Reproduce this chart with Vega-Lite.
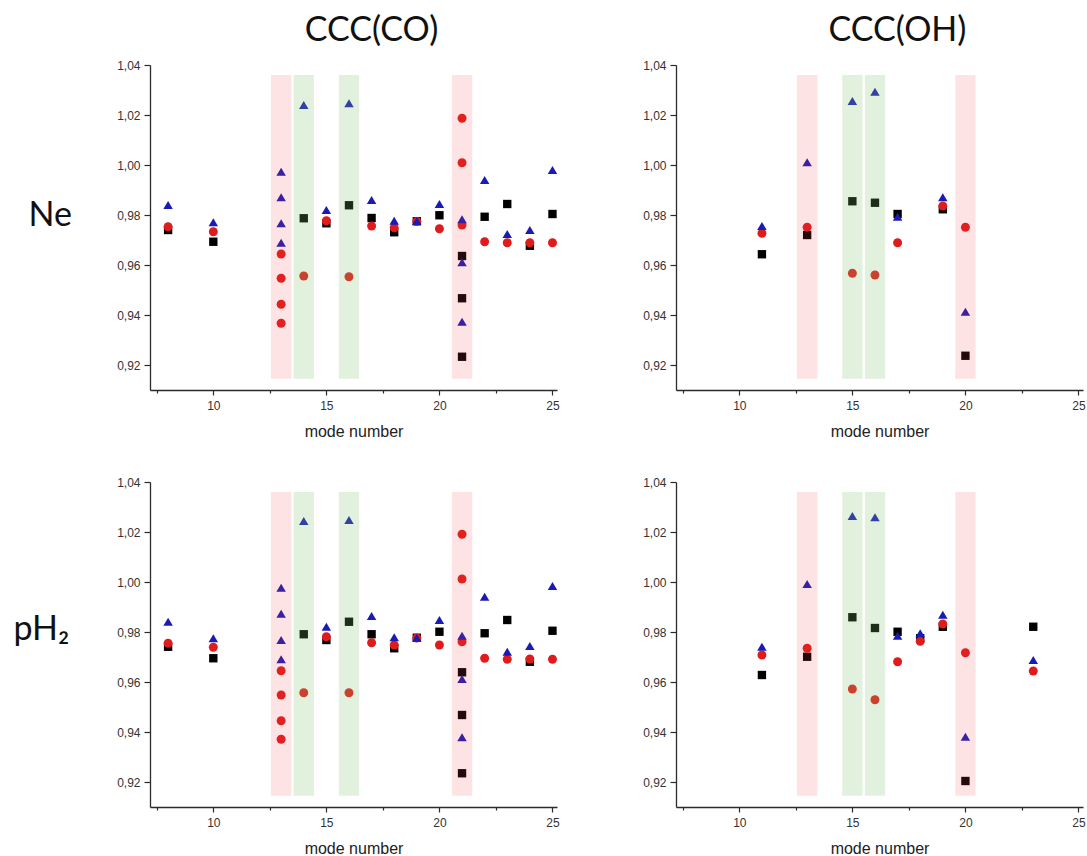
{
  "$schema": "https://vega.github.io/schema/vega-lite/v6.json",
  "padding": {"left": 13, "top": 14, "right": 0, "bottom": 0},
  "background": "white",
  "columns": 2,
  "bounds": "flush",
  "spacing": {"row": 92, "column": 119},
  "datasets": {
    "points": [
      {"panel": "CO_Ne", "series": "sq", "mode": 8, "value": 0.974},
      {"panel": "CO_Ne", "series": "sq", "mode": 10, "value": 0.9693},
      {"panel": "CO_Ne", "series": "sq", "mode": 14, "value": 0.9787},
      {"panel": "CO_Ne", "series": "sq", "mode": 15, "value": 0.9767},
      {"panel": "CO_Ne", "series": "sq", "mode": 16, "value": 0.9839},
      {"panel": "CO_Ne", "series": "sq", "mode": 17, "value": 0.9788},
      {"panel": "CO_Ne", "series": "sq", "mode": 18, "value": 0.9731},
      {"panel": "CO_Ne", "series": "sq", "mode": 19, "value": 0.9775},
      {"panel": "CO_Ne", "series": "sq", "mode": 20, "value": 0.9799},
      {"panel": "CO_Ne", "series": "sq", "mode": 21, "value": 0.9636},
      {"panel": "CO_Ne", "series": "sq", "mode": 21, "value": 0.9467},
      {"panel": "CO_Ne", "series": "sq", "mode": 21, "value": 0.9233},
      {"panel": "CO_Ne", "series": "sq", "mode": 22, "value": 0.9793},
      {"panel": "CO_Ne", "series": "sq", "mode": 23, "value": 0.9844},
      {"panel": "CO_Ne", "series": "sq", "mode": 24, "value": 0.9677},
      {"panel": "CO_Ne", "series": "sq", "mode": 25, "value": 0.9804},
      {"panel": "CO_Ne", "series": "ci", "mode": 8, "value": 0.9753},
      {"panel": "CO_Ne", "series": "ci", "mode": 10, "value": 0.9733},
      {"panel": "CO_Ne", "series": "ci", "mode": 13, "value": 0.9644},
      {"panel": "CO_Ne", "series": "ci", "mode": 13, "value": 0.9547},
      {"panel": "CO_Ne", "series": "ci", "mode": 13, "value": 0.9443},
      {"panel": "CO_Ne", "series": "ci", "mode": 13, "value": 0.9367},
      {"panel": "CO_Ne", "series": "ci", "mode": 14, "value": 0.9556},
      {"panel": "CO_Ne", "series": "ci", "mode": 15, "value": 0.9777},
      {"panel": "CO_Ne", "series": "ci", "mode": 16, "value": 0.9553},
      {"panel": "CO_Ne", "series": "ci", "mode": 17, "value": 0.9756},
      {"panel": "CO_Ne", "series": "ci", "mode": 18, "value": 0.9749},
      {"panel": "CO_Ne", "series": "ci", "mode": 19, "value": 0.9774},
      {"panel": "CO_Ne", "series": "ci", "mode": 20, "value": 0.9745},
      {"panel": "CO_Ne", "series": "ci", "mode": 21, "value": 1.0187},
      {"panel": "CO_Ne", "series": "ci", "mode": 21, "value": 1.0009},
      {"panel": "CO_Ne", "series": "ci", "mode": 21, "value": 0.976},
      {"panel": "CO_Ne", "series": "ci", "mode": 22, "value": 0.9693},
      {"panel": "CO_Ne", "series": "ci", "mode": 23, "value": 0.9689},
      {"panel": "CO_Ne", "series": "ci", "mode": 24, "value": 0.9689},
      {"panel": "CO_Ne", "series": "ci", "mode": 25, "value": 0.9689},
      {"panel": "CO_Ne", "series": "tr", "mode": 8, "value": 0.984},
      {"panel": "CO_Ne", "series": "tr", "mode": 10, "value": 0.9771},
      {"panel": "CO_Ne", "series": "tr", "mode": 13, "value": 0.9973},
      {"panel": "CO_Ne", "series": "tr", "mode": 13, "value": 0.9871},
      {"panel": "CO_Ne", "series": "tr", "mode": 13, "value": 0.9767},
      {"panel": "CO_Ne", "series": "tr", "mode": 13, "value": 0.9689},
      {"panel": "CO_Ne", "series": "tr", "mode": 14, "value": 1.024},
      {"panel": "CO_Ne", "series": "tr", "mode": 15, "value": 0.982},
      {"panel": "CO_Ne", "series": "tr", "mode": 16, "value": 1.0247},
      {"panel": "CO_Ne", "series": "tr", "mode": 17, "value": 0.986},
      {"panel": "CO_Ne", "series": "tr", "mode": 18, "value": 0.9777},
      {"panel": "CO_Ne", "series": "tr", "mode": 19, "value": 0.9776},
      {"panel": "CO_Ne", "series": "tr", "mode": 20, "value": 0.9844},
      {"panel": "CO_Ne", "series": "tr", "mode": 21, "value": 0.9783},
      {"panel": "CO_Ne", "series": "tr", "mode": 21, "value": 0.9611},
      {"panel": "CO_Ne", "series": "tr", "mode": 21, "value": 0.9373},
      {"panel": "CO_Ne", "series": "tr", "mode": 22, "value": 0.994},
      {"panel": "CO_Ne", "series": "tr", "mode": 23, "value": 0.9724},
      {"panel": "CO_Ne", "series": "tr", "mode": 24, "value": 0.974},
      {"panel": "CO_Ne", "series": "tr", "mode": 25, "value": 0.998},

      {"panel": "OH_Ne", "series": "sq", "mode": 11, "value": 0.9643},
      {"panel": "OH_Ne", "series": "sq", "mode": 13, "value": 0.972},
      {"panel": "OH_Ne", "series": "sq", "mode": 15, "value": 0.9855},
      {"panel": "OH_Ne", "series": "sq", "mode": 16, "value": 0.9849},
      {"panel": "OH_Ne", "series": "sq", "mode": 17, "value": 0.9804},
      {"panel": "OH_Ne", "series": "sq", "mode": 19, "value": 0.9823},
      {"panel": "OH_Ne", "series": "sq", "mode": 20, "value": 0.9237},
      {"panel": "OH_Ne", "series": "ci", "mode": 11, "value": 0.9727},
      {"panel": "OH_Ne", "series": "ci", "mode": 13, "value": 0.9751},
      {"panel": "OH_Ne", "series": "ci", "mode": 15, "value": 0.9567},
      {"panel": "OH_Ne", "series": "ci", "mode": 16, "value": 0.956},
      {"panel": "OH_Ne", "series": "ci", "mode": 17, "value": 0.9689},
      {"panel": "OH_Ne", "series": "ci", "mode": 19, "value": 0.9836},
      {"panel": "OH_Ne", "series": "ci", "mode": 20, "value": 0.9751},
      {"panel": "OH_Ne", "series": "tr", "mode": 11, "value": 0.9756},
      {"panel": "OH_Ne", "series": "tr", "mode": 13, "value": 1.0011},
      {"panel": "OH_Ne", "series": "tr", "mode": 15, "value": 1.0256},
      {"panel": "OH_Ne", "series": "tr", "mode": 16, "value": 1.0293},
      {"panel": "OH_Ne", "series": "tr", "mode": 17, "value": 0.9793},
      {"panel": "OH_Ne", "series": "tr", "mode": 19, "value": 0.9871},
      {"panel": "OH_Ne", "series": "tr", "mode": 20, "value": 0.9413},

      {"panel": "CO_pH2", "series": "sq", "mode": 8, "value": 0.9741},
      {"panel": "CO_pH2", "series": "sq", "mode": 10, "value": 0.9695},
      {"panel": "CO_pH2", "series": "sq", "mode": 14, "value": 0.9791},
      {"panel": "CO_pH2", "series": "sq", "mode": 15, "value": 0.9768},
      {"panel": "CO_pH2", "series": "sq", "mode": 16, "value": 0.9841},
      {"panel": "CO_pH2", "series": "sq", "mode": 17, "value": 0.9791},
      {"panel": "CO_pH2", "series": "sq", "mode": 18, "value": 0.9735},
      {"panel": "CO_pH2", "series": "sq", "mode": 19, "value": 0.9777},
      {"panel": "CO_pH2", "series": "sq", "mode": 20, "value": 0.9801},
      {"panel": "CO_pH2", "series": "sq", "mode": 21, "value": 0.9639},
      {"panel": "CO_pH2", "series": "sq", "mode": 21, "value": 0.9468},
      {"panel": "CO_pH2", "series": "sq", "mode": 21, "value": 0.9235},
      {"panel": "CO_pH2", "series": "sq", "mode": 22, "value": 0.9795},
      {"panel": "CO_pH2", "series": "sq", "mode": 23, "value": 0.9848},
      {"panel": "CO_pH2", "series": "sq", "mode": 24, "value": 0.9681},
      {"panel": "CO_pH2", "series": "sq", "mode": 25, "value": 0.9805},
      {"panel": "CO_pH2", "series": "ci", "mode": 8, "value": 0.9755},
      {"panel": "CO_pH2", "series": "ci", "mode": 10, "value": 0.9739},
      {"panel": "CO_pH2", "series": "ci", "mode": 13, "value": 0.9645},
      {"panel": "CO_pH2", "series": "ci", "mode": 13, "value": 0.9548},
      {"panel": "CO_pH2", "series": "ci", "mode": 13, "value": 0.9445},
      {"panel": "CO_pH2", "series": "ci", "mode": 13, "value": 0.9371},
      {"panel": "CO_pH2", "series": "ci", "mode": 14, "value": 0.9557},
      {"panel": "CO_pH2", "series": "ci", "mode": 15, "value": 0.9781},
      {"panel": "CO_pH2", "series": "ci", "mode": 16, "value": 0.9557},
      {"panel": "CO_pH2", "series": "ci", "mode": 17, "value": 0.9757},
      {"panel": "CO_pH2", "series": "ci", "mode": 18, "value": 0.9748},
      {"panel": "CO_pH2", "series": "ci", "mode": 19, "value": 0.9776},
      {"panel": "CO_pH2", "series": "ci", "mode": 20, "value": 0.9748},
      {"panel": "CO_pH2", "series": "ci", "mode": 21, "value": 1.0191},
      {"panel": "CO_pH2", "series": "ci", "mode": 21, "value": 1.0012},
      {"panel": "CO_pH2", "series": "ci", "mode": 21, "value": 0.9761},
      {"panel": "CO_pH2", "series": "ci", "mode": 22, "value": 0.9695},
      {"panel": "CO_pH2", "series": "ci", "mode": 23, "value": 0.9691},
      {"panel": "CO_pH2", "series": "ci", "mode": 24, "value": 0.9692},
      {"panel": "CO_pH2", "series": "ci", "mode": 25, "value": 0.9691},
      {"panel": "CO_pH2", "series": "tr", "mode": 8, "value": 0.9841},
      {"panel": "CO_pH2", "series": "tr", "mode": 10, "value": 0.9775},
      {"panel": "CO_pH2", "series": "tr", "mode": 13, "value": 0.9977},
      {"panel": "CO_pH2", "series": "tr", "mode": 13, "value": 0.9873},
      {"panel": "CO_pH2", "series": "tr", "mode": 13, "value": 0.9768},
      {"panel": "CO_pH2", "series": "tr", "mode": 13, "value": 0.9691},
      {"panel": "CO_pH2", "series": "tr", "mode": 14, "value": 1.0244},
      {"panel": "CO_pH2", "series": "tr", "mode": 15, "value": 0.9821},
      {"panel": "CO_pH2", "series": "tr", "mode": 16, "value": 1.0248},
      {"panel": "CO_pH2", "series": "tr", "mode": 17, "value": 0.9864},
      {"panel": "CO_pH2", "series": "tr", "mode": 18, "value": 0.9779},
      {"panel": "CO_pH2", "series": "tr", "mode": 19, "value": 0.9777},
      {"panel": "CO_pH2", "series": "tr", "mode": 20, "value": 0.9848},
      {"panel": "CO_pH2", "series": "tr", "mode": 21, "value": 0.9785},
      {"panel": "CO_pH2", "series": "tr", "mode": 21, "value": 0.9612},
      {"panel": "CO_pH2", "series": "tr", "mode": 21, "value": 0.9379},
      {"panel": "CO_pH2", "series": "tr", "mode": 22, "value": 0.9941},
      {"panel": "CO_pH2", "series": "tr", "mode": 23, "value": 0.9721},
      {"panel": "CO_pH2", "series": "tr", "mode": 24, "value": 0.9744},
      {"panel": "CO_pH2", "series": "tr", "mode": 25, "value": 0.9984},

      {"panel": "OH_pH2", "series": "sq", "mode": 11, "value": 0.9628},
      {"panel": "OH_pH2", "series": "sq", "mode": 13, "value": 0.9701},
      {"panel": "OH_pH2", "series": "sq", "mode": 15, "value": 0.9859},
      {"panel": "OH_pH2", "series": "sq", "mode": 16, "value": 0.9816},
      {"panel": "OH_pH2", "series": "sq", "mode": 17, "value": 0.9801},
      {"panel": "OH_pH2", "series": "sq", "mode": 18, "value": 0.9775},
      {"panel": "OH_pH2", "series": "sq", "mode": 19, "value": 0.9821},
      {"panel": "OH_pH2", "series": "sq", "mode": 20, "value": 0.9204},
      {"panel": "OH_pH2", "series": "sq", "mode": 23, "value": 0.9821},
      {"panel": "OH_pH2", "series": "ci", "mode": 11, "value": 0.9708},
      {"panel": "OH_pH2", "series": "ci", "mode": 13, "value": 0.9735},
      {"panel": "OH_pH2", "series": "ci", "mode": 15, "value": 0.9572},
      {"panel": "OH_pH2", "series": "ci", "mode": 16, "value": 0.9529},
      {"panel": "OH_pH2", "series": "ci", "mode": 17, "value": 0.9681},
      {"panel": "OH_pH2", "series": "ci", "mode": 18, "value": 0.9763},
      {"panel": "OH_pH2", "series": "ci", "mode": 19, "value": 0.9832},
      {"panel": "OH_pH2", "series": "ci", "mode": 20, "value": 0.9717},
      {"panel": "OH_pH2", "series": "ci", "mode": 23, "value": 0.9644},
      {"panel": "OH_pH2", "series": "tr", "mode": 11, "value": 0.9741},
      {"panel": "OH_pH2", "series": "tr", "mode": 13, "value": 0.9992},
      {"panel": "OH_pH2", "series": "tr", "mode": 15, "value": 1.0264},
      {"panel": "OH_pH2", "series": "tr", "mode": 16, "value": 1.0259},
      {"panel": "OH_pH2", "series": "tr", "mode": 17, "value": 0.9785},
      {"panel": "OH_pH2", "series": "tr", "mode": 18, "value": 0.9795},
      {"panel": "OH_pH2", "series": "tr", "mode": 19, "value": 0.9869},
      {"panel": "OH_pH2", "series": "tr", "mode": 20, "value": 0.9381},
      {"panel": "OH_pH2", "series": "tr", "mode": 23, "value": 0.9688}
    ],
    "bands": [
      {"panel": "CO_Ne", "kind": "pink", "x1": 12.55, "x2": 13.45},
      {"panel": "CO_Ne", "kind": "green", "x1": 13.55, "x2": 14.45},
      {"panel": "CO_Ne", "kind": "green", "x1": 15.55, "x2": 16.45},
      {"panel": "CO_Ne", "kind": "pink", "x1": 20.55, "x2": 21.45},
      {"panel": "CO_pH2", "kind": "pink", "x1": 12.55, "x2": 13.45},
      {"panel": "CO_pH2", "kind": "green", "x1": 13.55, "x2": 14.45},
      {"panel": "CO_pH2", "kind": "green", "x1": 15.55, "x2": 16.45},
      {"panel": "CO_pH2", "kind": "pink", "x1": 20.55, "x2": 21.45},
      {"panel": "OH_Ne", "kind": "pink", "x1": 12.55, "x2": 13.45},
      {"panel": "OH_Ne", "kind": "green", "x1": 14.55, "x2": 15.45},
      {"panel": "OH_Ne", "kind": "green", "x1": 15.55, "x2": 16.45},
      {"panel": "OH_Ne", "kind": "pink", "x1": 19.55, "x2": 20.45},
      {"panel": "OH_pH2", "kind": "pink", "x1": 12.55, "x2": 13.45},
      {"panel": "OH_pH2", "kind": "green", "x1": 14.55, "x2": 15.45},
      {"panel": "OH_pH2", "kind": "green", "x1": 15.55, "x2": 16.45},
      {"panel": "OH_pH2", "kind": "pink", "x1": 19.55, "x2": 20.45}
    ]
  },
  "concat": [
    {
      "width": 407, "height": 325,
      "title": {"text": "CCC(CO)", "dx": 18, "offset": 11},
      "layer": [
        {
          "data": {"name": "points"},
          "transform": [{"filter": "datum.panel === 'CO_Ne'"}],
          "mark": {"type": "point", "filled": true, "opacity": 1},
          "encoding": {
            "x": {"field": "mode", "type": "quantitative", "scale": {"domain": [7.2, 25.2], "nice": false, "zero": false},
              "axis": {"values": [7.5, 10, 12.5, 15, 17.5, 20, 22.5, 25], "title": "mode number", "labelExpr": "datum.value % 5 == 0 ? datum.label : ''", "tickSize": {"condition": {"test": "datum.value % 5 == 0", "value": 5}, "value": 3}, "labelPadding": 5, "titlePadding": 12}},
            "y": {"field": "value", "type": "quantitative", "scale": {"domain": [0.91, 1.04], "nice": false, "zero": false},
              "axis": {"values": [0.92, 0.93, 0.94, 0.95, 0.96, 0.97, 0.98, 0.99, 1.0, 1.01, 1.02, 1.03, 1.04], "labelExpr": "round(datum.value*100) % 2 == 0 ? replace(format(datum.value, '.2f'), '.', ',') : ''", "tickSize": {"condition": {"test": "round(datum.value*100) % 2 == 0", "value": 6}, "value": 3}, "labelPadding": 4,
                "title": "Ne", "titleAngle": 0, "titleFont": "Lato", "titleFontSize": 34, "titleColor": "#111", "titleAlign": "left", "titleBaseline": "middle", "titleX": -122, "titleY": 150}},
            "shape": {"field": "series", "type": "nominal", "scale": {"domain": ["sq", "ci", "tr"], "range": ["square", "circle", "triangle-up"]}, "legend": null},
            "color": {"field": "series", "type": "nominal", "scale": {"domain": ["sq", "ci", "tr"], "range": ["#000000", "#e01b1b", "#1a1ab4"]}, "legend": null},
            "size": {"field": "series", "type": "nominal", "scale": {"domain": ["sq", "ci", "tr"], "range": [70, 90, 150]}, "legend": null}
          }
        },
        {
          "data": {"name": "bands"},
          "transform": [{"filter": "datum.panel === 'CO_Ne' && datum.kind === 'pink'"}],
          "mark": {"type": "rect", "color": "rgb(240,70,70)", "opacity": 0.15},
          "encoding": {"x": {"field": "x1", "type": "quantitative"}, "x2": {"field": "x2"}, "y": {"datum": 0.9145, "type": "quantitative"}, "y2": {"datum": 1.036}}
        },
        {
          "data": {"name": "bands"},
          "transform": [{"filter": "datum.panel === 'CO_Ne' && datum.kind === 'green'"}],
          "mark": {"type": "rect", "color": "rgb(130,196,109)", "opacity": 0.23},
          "encoding": {"x": {"field": "x1", "type": "quantitative"}, "x2": {"field": "x2"}, "y": {"datum": 0.9145, "type": "quantitative"}, "y2": {"datum": 1.036}}
        }
      ]
    },
    {
      "width": 407, "height": 325,
      "title": {"text": "CCC(OH)", "dx": 18, "offset": 11},
      "layer": [
        {
          "data": {"name": "points"},
          "transform": [{"filter": "datum.panel === 'OH_Ne'"}],
          "mark": {"type": "point", "filled": true, "opacity": 1},
          "encoding": {
            "x": {"field": "mode", "type": "quantitative", "scale": {"domain": [7.2, 25.2], "nice": false, "zero": false},
              "axis": {"values": [7.5, 10, 12.5, 15, 17.5, 20, 22.5, 25], "title": "mode number", "labelExpr": "datum.value % 5 == 0 ? datum.label : ''", "tickSize": {"condition": {"test": "datum.value % 5 == 0", "value": 5}, "value": 3}, "labelPadding": 5, "titlePadding": 12}},
            "y": {"field": "value", "type": "quantitative", "scale": {"domain": [0.91, 1.04], "nice": false, "zero": false},
              "axis": {"values": [0.92, 0.93, 0.94, 0.95, 0.96, 0.97, 0.98, 0.99, 1.0, 1.01, 1.02, 1.03, 1.04], "labelExpr": "round(datum.value*100) % 2 == 0 ? replace(format(datum.value, '.2f'), '.', ',') : ''", "tickSize": {"condition": {"test": "round(datum.value*100) % 2 == 0", "value": 6}, "value": 3}, "labelPadding": 4, "title": null}},
            "shape": {"field": "series", "type": "nominal", "scale": {"domain": ["sq", "ci", "tr"], "range": ["square", "circle", "triangle-up"]}, "legend": null},
            "color": {"field": "series", "type": "nominal", "scale": {"domain": ["sq", "ci", "tr"], "range": ["#000000", "#e01b1b", "#1a1ab4"]}, "legend": null},
            "size": {"field": "series", "type": "nominal", "scale": {"domain": ["sq", "ci", "tr"], "range": [70, 90, 150]}, "legend": null}
          }
        },
        {
          "data": {"name": "bands"},
          "transform": [{"filter": "datum.panel === 'OH_Ne' && datum.kind === 'pink'"}],
          "mark": {"type": "rect", "color": "rgb(240,70,70)", "opacity": 0.15},
          "encoding": {"x": {"field": "x1", "type": "quantitative"}, "x2": {"field": "x2"}, "y": {"datum": 0.9145, "type": "quantitative"}, "y2": {"datum": 1.036}}
        },
        {
          "data": {"name": "bands"},
          "transform": [{"filter": "datum.panel === 'OH_Ne' && datum.kind === 'green'"}],
          "mark": {"type": "rect", "color": "rgb(130,196,109)", "opacity": 0.23},
          "encoding": {"x": {"field": "x1", "type": "quantitative"}, "x2": {"field": "x2"}, "y": {"datum": 0.9145, "type": "quantitative"}, "y2": {"datum": 1.036}}
        }
      ]
    },
    {
      "width": 407, "height": 325,
      "layer": [
        {
          "data": {"name": "points"},
          "transform": [{"filter": "datum.panel === 'CO_pH2'"}],
          "mark": {"type": "point", "filled": true, "opacity": 1},
          "encoding": {
            "x": {"field": "mode", "type": "quantitative", "scale": {"domain": [7.2, 25.2], "nice": false, "zero": false},
              "axis": {"values": [7.5, 10, 12.5, 15, 17.5, 20, 22.5, 25], "title": "mode number", "labelExpr": "datum.value % 5 == 0 ? datum.label : ''", "tickSize": {"condition": {"test": "datum.value % 5 == 0", "value": 5}, "value": 3}, "labelPadding": 5, "titlePadding": 12}},
            "y": {"field": "value", "type": "quantitative", "scale": {"domain": [0.91, 1.04], "nice": false, "zero": false},
              "axis": {"values": [0.92, 0.93, 0.94, 0.95, 0.96, 0.97, 0.98, 0.99, 1.0, 1.01, 1.02, 1.03, 1.04], "labelExpr": "round(datum.value*100) % 2 == 0 ? replace(format(datum.value, '.2f'), '.', ',') : ''", "tickSize": {"condition": {"test": "round(datum.value*100) % 2 == 0", "value": 6}, "value": 3}, "labelPadding": 4,
                "title": "pH₂", "titleAngle": 0, "titleFont": "Lato", "titleFontSize": 34, "titleColor": "#111", "titleAlign": "left", "titleBaseline": "middle", "titleX": -137, "titleY": 147}},
            "shape": {"field": "series", "type": "nominal", "scale": {"domain": ["sq", "ci", "tr"], "range": ["square", "circle", "triangle-up"]}, "legend": null},
            "color": {"field": "series", "type": "nominal", "scale": {"domain": ["sq", "ci", "tr"], "range": ["#000000", "#e01b1b", "#1a1ab4"]}, "legend": null},
            "size": {"field": "series", "type": "nominal", "scale": {"domain": ["sq", "ci", "tr"], "range": [70, 90, 150]}, "legend": null}
          }
        },
        {
          "data": {"name": "bands"},
          "transform": [{"filter": "datum.panel === 'CO_pH2' && datum.kind === 'pink'"}],
          "mark": {"type": "rect", "color": "rgb(240,70,70)", "opacity": 0.15},
          "encoding": {"x": {"field": "x1", "type": "quantitative"}, "x2": {"field": "x2"}, "y": {"datum": 0.9145, "type": "quantitative"}, "y2": {"datum": 1.036}}
        },
        {
          "data": {"name": "bands"},
          "transform": [{"filter": "datum.panel === 'CO_pH2' && datum.kind === 'green'"}],
          "mark": {"type": "rect", "color": "rgb(130,196,109)", "opacity": 0.23},
          "encoding": {"x": {"field": "x1", "type": "quantitative"}, "x2": {"field": "x2"}, "y": {"datum": 0.9145, "type": "quantitative"}, "y2": {"datum": 1.036}}
        }
      ]
    },
    {
      "width": 407, "height": 325,
      "layer": [
        {
          "data": {"name": "points"},
          "transform": [{"filter": "datum.panel === 'OH_pH2'"}],
          "mark": {"type": "point", "filled": true, "opacity": 1},
          "encoding": {
            "x": {"field": "mode", "type": "quantitative", "scale": {"domain": [7.2, 25.2], "nice": false, "zero": false},
              "axis": {"values": [7.5, 10, 12.5, 15, 17.5, 20, 22.5, 25], "title": "mode number", "labelExpr": "datum.value % 5 == 0 ? datum.label : ''", "tickSize": {"condition": {"test": "datum.value % 5 == 0", "value": 5}, "value": 3}, "labelPadding": 5, "titlePadding": 12}},
            "y": {"field": "value", "type": "quantitative", "scale": {"domain": [0.91, 1.04], "nice": false, "zero": false},
              "axis": {"values": [0.92, 0.93, 0.94, 0.95, 0.96, 0.97, 0.98, 0.99, 1.0, 1.01, 1.02, 1.03, 1.04], "labelExpr": "round(datum.value*100) % 2 == 0 ? replace(format(datum.value, '.2f'), '.', ',') : ''", "tickSize": {"condition": {"test": "round(datum.value*100) % 2 == 0", "value": 6}, "value": 3}, "labelPadding": 4, "title": null}},
            "shape": {"field": "series", "type": "nominal", "scale": {"domain": ["sq", "ci", "tr"], "range": ["square", "circle", "triangle-up"]}, "legend": null},
            "color": {"field": "series", "type": "nominal", "scale": {"domain": ["sq", "ci", "tr"], "range": ["#000000", "#e01b1b", "#1a1ab4"]}, "legend": null},
            "size": {"field": "series", "type": "nominal", "scale": {"domain": ["sq", "ci", "tr"], "range": [70, 90, 150]}, "legend": null}
          }
        },
        {
          "data": {"name": "bands"},
          "transform": [{"filter": "datum.panel === 'OH_pH2' && datum.kind === 'pink'"}],
          "mark": {"type": "rect", "color": "rgb(240,70,70)", "opacity": 0.15},
          "encoding": {"x": {"field": "x1", "type": "quantitative"}, "x2": {"field": "x2"}, "y": {"datum": 0.9145, "type": "quantitative"}, "y2": {"datum": 1.036}}
        },
        {
          "data": {"name": "bands"},
          "transform": [{"filter": "datum.panel === 'OH_pH2' && datum.kind === 'green'"}],
          "mark": {"type": "rect", "color": "rgb(130,196,109)", "opacity": 0.23},
          "encoding": {"x": {"field": "x1", "type": "quantitative"}, "x2": {"field": "x2"}, "y": {"datum": 0.9145, "type": "quantitative"}, "y2": {"datum": 1.036}}
        }
      ]
    }
  ],
  "config": {
    "view": {"stroke": null},
    "axis": {"domainColor": "#2b2b2b", "domainWidth": 1.3, "tickColor": "#2b2b2b", "tickWidth": 1.2, "labelColor": "#333333", "labelFont": "Liberation Sans", "labelFontSize": 12, "labelOverlap": false, "labelFlush": false, "grid": false, "titleFont": "Liberation Sans", "titleFontSize": 16, "titleFontWeight": "normal", "titleColor": "#222222"},
    "title": {"font": "Lato", "fontSize": 34, "fontWeight": "normal", "color": "#111111"}
  }
}
